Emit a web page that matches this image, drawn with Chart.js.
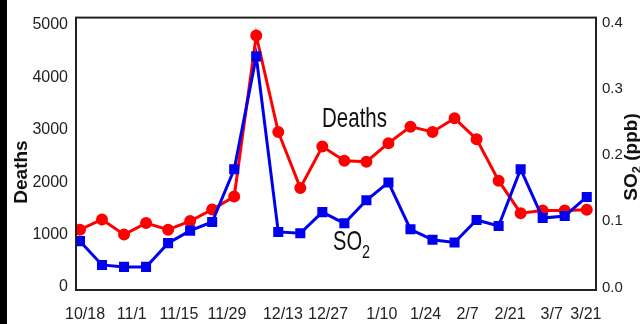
<!DOCTYPE html>
<html>
<head>
<meta charset="utf-8">
<script src="https://cdn.jsdelivr.net/npm/chart.js@4.4.1/dist/chart.umd.min.js"></script>
<style>
    html, body { margin: 0; padding: 0; background: #fff; }
    canvas { display: block; }
</style>
</head>
<body>
<canvas id="deathsChart" width="640" height="324"></canvas>
<script>
// x tick labels (two-week steps) and where they sit, in week units
const dateLabels = ['10/18', '11/1', '11/15', '11/29', '12/13', '12/27', '1/10', '1/24', '2/7', '2/21', '3/7', '3/21'];
const dateLabelWeeks = [0.23, 2.35, 4.49, 6.67, 9.21, 11.26, 13.7, 15.69, 17.59, 19.52, 21.41, 22.96];

// y tick values
const deathTicks = [0, 1000, 2000, 3000, 4000, 5000];
const so2Ticks = [0, 0.1, 0.2, 0.3, 0.4];

// weekly series
const deaths = [1095, 1290, 1000, 1220, 1095, 1258, 1480, 1727, 4800, 2960, 1892, 2681,
                2410, 2391, 2746, 3061, 2960, 3220, 2822, 2030, 1410, 1461, 1461, 1474];
const so2 = [0.070, 0.034, 0.031, 0.031, 0.067, 0.086, 0.099, 0.179, 0.350, 0.084, 0.082, 0.114,
             0.097, 0.132, 0.159, 0.088, 0.072, 0.068, 0.102, 0.093, 0.179, 0.105, 0.108, 0.137];

(function() {
    'use strict';

    const NARROW = "'Liberation Sans Narrow', 'Arial Narrow', 'Liberation Sans', Arial, sans-serif";
    const SANS = "'Liberation Sans', Arial, sans-serif";

    // draw text squeezed to the given width
    function fitText(ctx, text, x, y, width) {
        const w = ctx.measureText(text).width;
        ctx.save();
        ctx.translate(x, y);
        ctx.scale(width / w, 1);
        ctx.fillText(text, 0, 0);
        ctx.restore();
    }

    const framePlugin = {
        id: 'frame',
        beforeDraw(chart) {
            const ctx = chart.ctx;
            ctx.save();
            ctx.fillStyle = '#fff';
            ctx.fillRect(0, 0, chart.width, chart.height);
            ctx.fillStyle = '#000';
            ctx.fillRect(0, 0, 7, chart.height);
            ctx.restore();
        },
        afterDraw(chart) {
            const ctx = chart.ctx;
            const a = chart.chartArea;
            ctx.save();
            ctx.strokeStyle = '#222';
            ctx.lineWidth = 2;
            ctx.strokeRect(a.left, a.top, a.right - a.left, a.bottom - a.top);

            ctx.fillStyle = '#111';
            ctx.textBaseline = 'middle';

            // left axis title
            ctx.save();
            ctx.translate(22, 172);
            ctx.rotate(-Math.PI / 2);
            ctx.font = 'bold 19px ' + SANS;
            ctx.textAlign = 'center';
            ctx.fillText('Deaths', 0, 0);
            ctx.restore();

            // right axis title, SO2 with subscript
            ctx.save();
            ctx.translate(632, 157);
            ctx.rotate(-Math.PI / 2);
            ctx.textAlign = 'left';
            ctx.font = 'bold 19px ' + SANS;
            const wSO = ctx.measureText('SO').width;
            const wRest = ctx.measureText(' (ppb)').width;
            ctx.font = 'bold 13px ' + SANS;
            const w2 = ctx.measureText('2').width;
            let x = -(wSO + w2 + wRest) / 2;
            ctx.font = 'bold 19px ' + SANS;
            ctx.fillText('SO', x, 0);
            x += wSO;
            ctx.font = 'bold 13px ' + SANS;
            ctx.fillText('2', x, 5);
            x += w2;
            ctx.font = 'bold 19px ' + SANS;
            ctx.fillText(' (ppb)', x, 0);
            ctx.restore();

            // series labels inside the plot
            ctx.textAlign = 'left';
            ctx.textBaseline = 'alphabetic';
            ctx.font = '28px ' + NARROW;
            fitText(ctx, 'Deaths', 322, 127, 65);
            fitText(ctx, 'SO', 333, 250, 29);
            ctx.font = '18px ' + NARROW;
            fitText(ctx, '2', 362, 258, 8);
            ctx.restore();
        }
    };

    const ctx = document.getElementById('deathsChart');

    new Chart(ctx, {
        type: 'line',
        data: {
            datasets: [{
                label: 'SO2',
                data: so2.map((v, i) => ({ x: i, y: v })),
                yAxisID: 'yS',
                borderColor: '#0000f0',
                backgroundColor: '#0000f0',
                borderWidth: 3,
                pointStyle: 'rect',
                pointRadius: 5,
                tension: 0,
                order: 0
            }, {
                label: 'Deaths',
                data: deaths.map((v, i) => ({ x: i, y: v })),
                yAxisID: 'yD',
                borderColor: '#ff0000',
                backgroundColor: '#ff0000',
                borderWidth: 3,
                pointStyle: 'circle',
                pointRadius: 4.5,
                tension: 0,
                order: 1
            }]
        },
        options: {
            responsive: false,
            animation: false,
            layout: { padding: { top: 16, left: 0, right: 0, bottom: 0 } },
            plugins: {
                legend: { display: false },
                tooltip: { enabled: false }
            },
            scales: {
                x: {
                    type: 'linear',
                    min: -0.18,
                    max: 23.42,
                    grid: { display: false, drawTicks: false },
                    border: { display: false },
                    afterBuildTicks: function(scale) {
                        scale.ticks = dateLabelWeeks.map(v => ({ value: v }));
                    },
                    afterFit: function(scale) { scale.height = 34; },
                    ticks: {
                        autoSkip: false,
                        maxRotation: 0,
                        padding: 15,
                        color: '#222',
                        font: { family: SANS, size: 16 },
                        callback: function(value, index) {
                            return dateLabels[index];
                        }
                    }
                },
                yD: {
                    position: 'left',
                    min: -57,
                    max: 5142,
                    grid: { display: false, drawTicks: false },
                    border: { display: false },
                    afterBuildTicks: function(scale) {
                        scale.ticks = deathTicks.map(v => ({ value: v }));
                    },
                    afterFit: function(scale) { scale.width = 76; },
                    ticks: {
                        padding: 8,
                        color: '#222',
                        font: { family: NARROW, size: 16 },
                        callback: function(value) {
                            return String(value);
                        }
                    }
                },
                yS: {
                    position: 'right',
                    min: -0.004,
                    max: 0.4087,
                    grid: { display: false, drawTicks: false },
                    border: { display: false },
                    afterBuildTicks: function(scale) {
                        scale.ticks = so2Ticks.map(v => ({ value: v }));
                    },
                    afterFit: function(scale) { scale.width = 44; },
                    ticks: {
                        padding: 6,
                        color: '#222',
                        font: { family: SANS, size: 15 },
                        callback: function(value) {
                            return value.toFixed(1);
                        }
                    }
                }
            }
        },
        plugins: [framePlugin]
    });
})();
</script>
</body>
</html>
